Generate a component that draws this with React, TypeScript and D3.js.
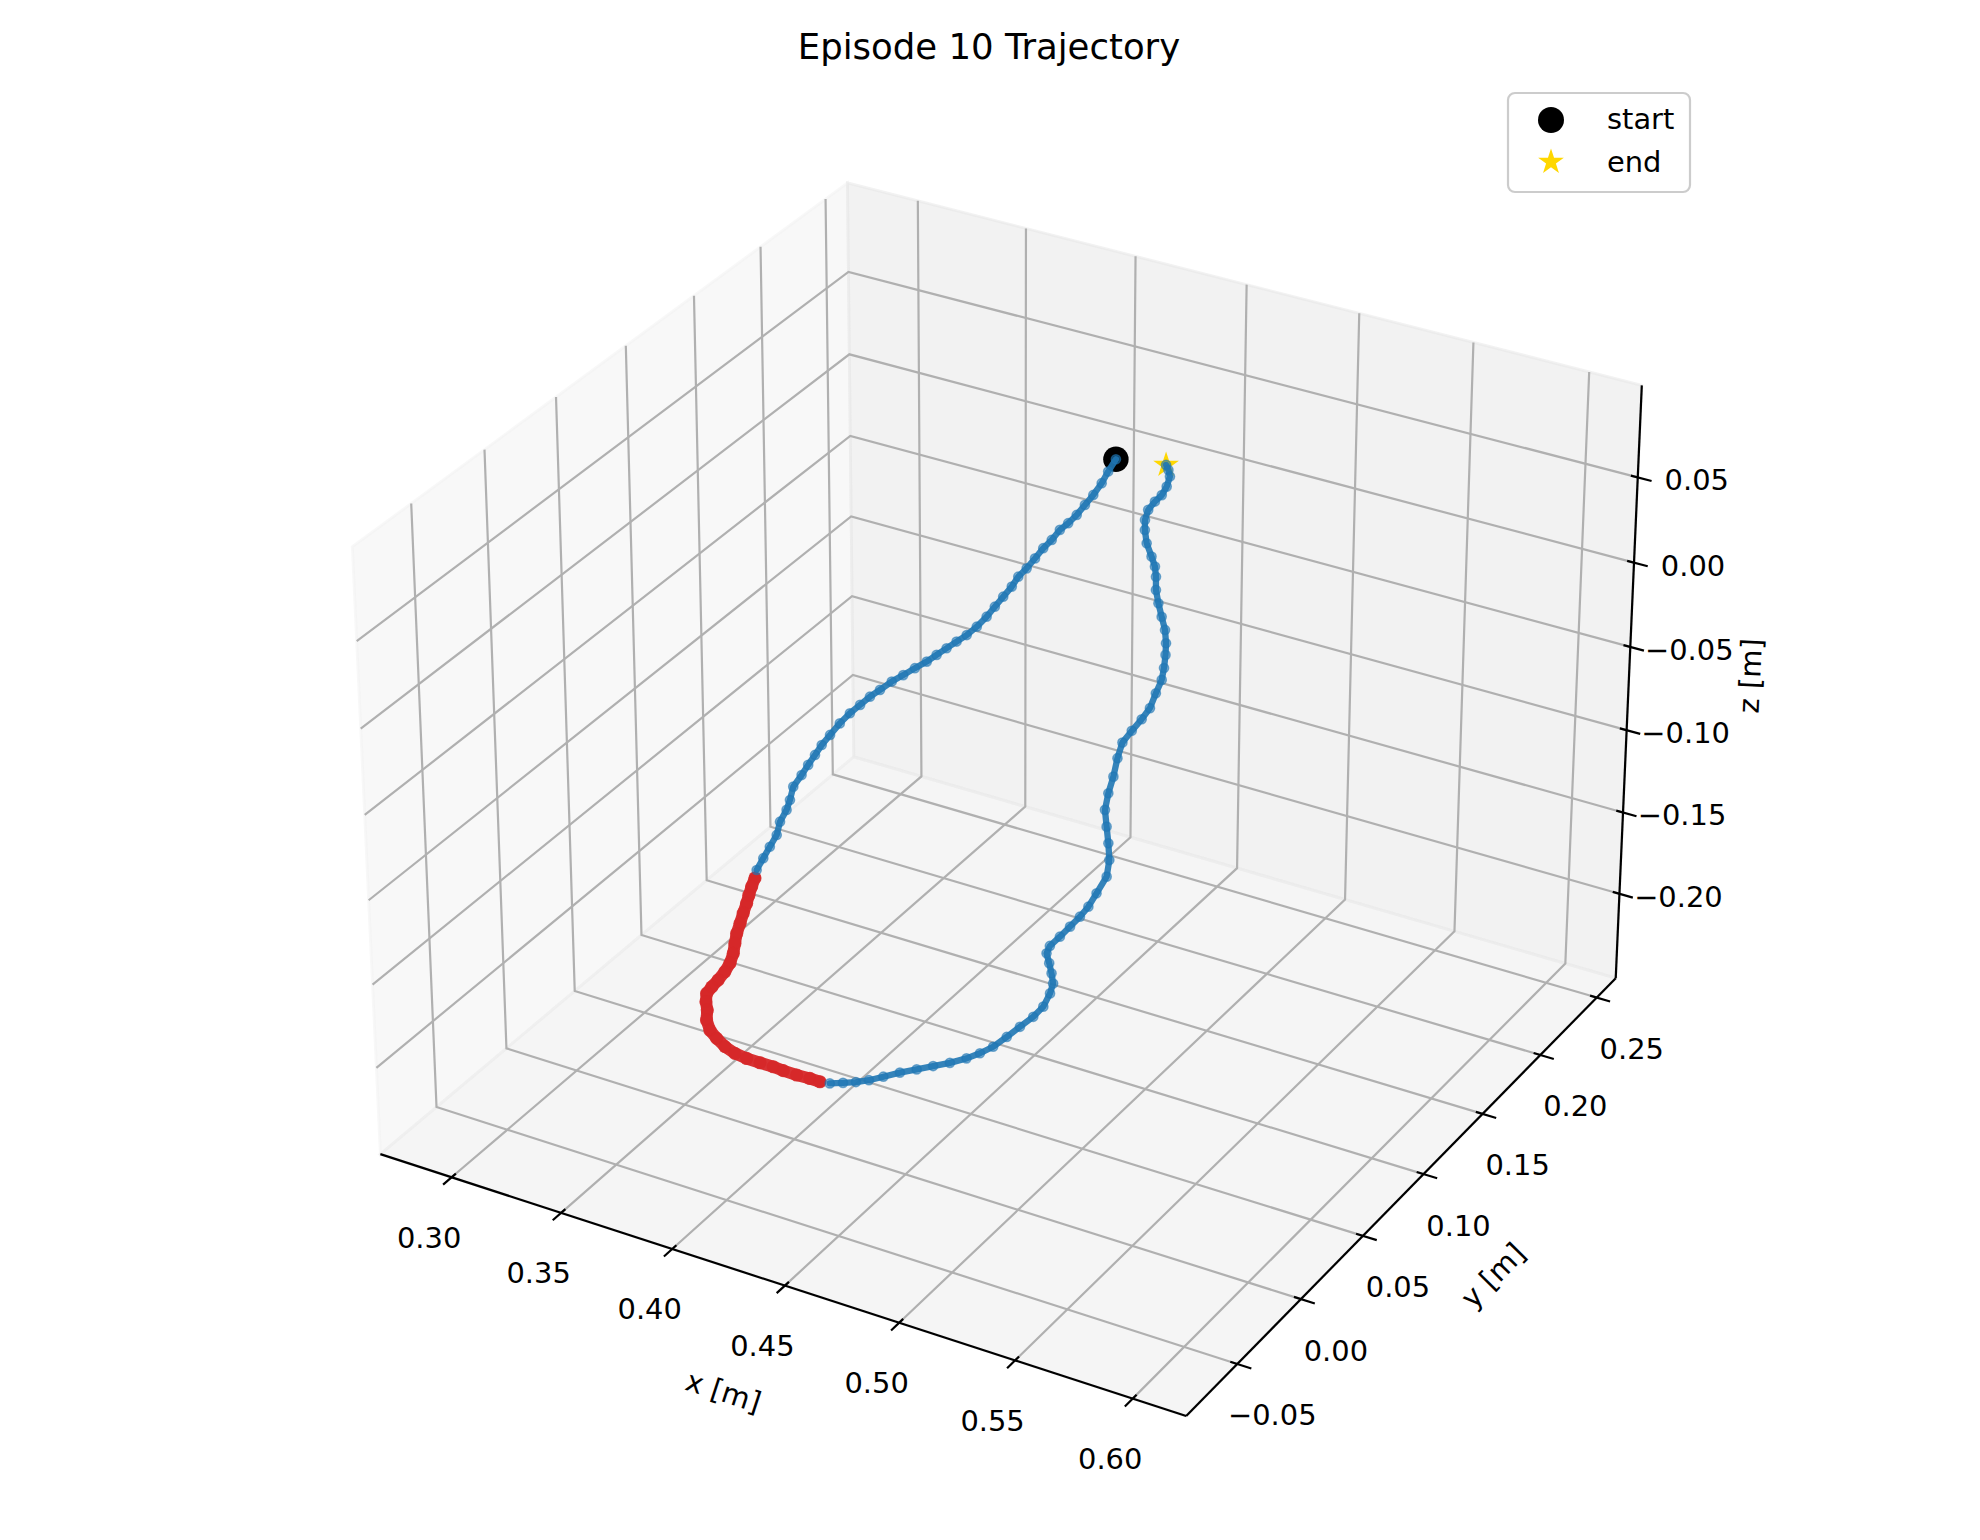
import React from "react";
import * as d3 from "d3";

// ---- data (metres) ----
const approachX = [0.4618, 0.4585, 0.4557, 0.4521, 0.4485, 0.4449, 0.4412, 0.4376, 0.434, 0.4303, 0.4267, 0.423, 0.4193, 0.4164, 0.4126, 0.4089, 0.4052, 0.4008, 0.3963, 0.3917, 0.3872, 0.3827, 0.3782, 0.3728, 0.3675, 0.3622, 0.3568, 0.3522, 0.3476, 0.3429, 0.3382, 0.3336, 0.3297, 0.3265, 0.3233, 0.3202, 0.3162, 0.3146, 0.313, 0.3098, 0.3082, 0.3049, 0.3017, 0.2985];
const approachY = [0.1412, 0.1411, 0.1411, 0.141, 0.1409, 0.1409, 0.1408, 0.1407, 0.1407, 0.1406, 0.1405, 0.1405, 0.1404, 0.1404, 0.1403, 0.1402, 0.1402, 0.1401, 0.14, 0.14, 0.1399, 0.1398, 0.1398, 0.1397, 0.1396, 0.1396, 0.1395, 0.1394, 0.1394, 0.1393, 0.1392, 0.1392, 0.1391, 0.1391, 0.139, 0.1389, 0.1389, 0.1388, 0.1387, 0.1387, 0.1386, 0.1385, 0.1385, 0.1384];
const approachZ = [0.0805, 0.0723, 0.0646, 0.0566, 0.0496, 0.0425, 0.0364, 0.0313, 0.0241, 0.018, 0.0108, 0.0036, -0.0026, -0.0095, -0.0168, -0.024, -0.0313, -0.0388, -0.0454, -0.051, -0.0566, -0.0622, -0.0679, -0.0738, -0.0799, -0.0858, -0.0928, -0.0986, -0.1053, -0.1121, -0.12, -0.1288, -0.1364, -0.1437, -0.151, -0.1584, -0.1671, -0.1759, -0.1826, -0.1912, -0.2, -0.2086, -0.217, -0.2256];

const contactX = [0.2985, 0.3009, 0.3034, 0.306, 0.3089, 0.3119, 0.3148, 0.3182, 0.3217, 0.3246, 0.3262, 0.3272, 0.3277, 0.3286, 0.3317, 0.3354, 0.3391, 0.3442, 0.3497, 0.3558, 0.3617, 0.3676, 0.3738, 0.3798, 0.3847, 0.3908, 0.3965, 0.4012];
const contactY = [0.137, 0.1305, 0.1243, 0.1183, 0.111, 0.1037, 0.0964, 0.0895, 0.0826, 0.0754, 0.0689, 0.0622, 0.0566, 0.0513, 0.0458, 0.0408, 0.0343, 0.0286, 0.0247, 0.021, 0.0188, 0.018, 0.0178, 0.0179, 0.0173, 0.0173, 0.0178, 0.0176];
const contactZ = [-0.2296, -0.2297, -0.2298, -0.2297, -0.2296, -0.2297, -0.2298, -0.2298, -0.2297, -0.2296, -0.2297, -0.2297, -0.2298, -0.2297, -0.2296, -0.2297, -0.2297, -0.2298, -0.2297, -0.2296, -0.2297, -0.2298, -0.2297, -0.2297, -0.2296, -0.2297, -0.2298, -0.2297];

const retreatX = [0.4051, 0.4094, 0.4134, 0.417, 0.4206, 0.4247, 0.4291, 0.4334, 0.4378, 0.4418, 0.4445, 0.4465, 0.4474, 0.4482, 0.449, 0.4487, 0.446, 0.4433, 0.439, 0.4344, 0.4297, 0.4336, 0.4381, 0.4426, 0.447, 0.4507, 0.4543, 0.4587, 0.4598, 0.4592, 0.4583, 0.4574, 0.4588, 0.4609, 0.4626, 0.4647, 0.4687, 0.473, 0.4765, 0.479, 0.4814, 0.4823, 0.4828, 0.4829, 0.4823, 0.4807, 0.4791, 0.4779, 0.4778, 0.4772, 0.4756, 0.4733, 0.4724, 0.4723, 0.4736, 0.4764, 0.4793, 0.4813, 0.4826, 0.4818, 0.4807];
const retreatY = [0.0185, 0.0213, 0.0244, 0.0282, 0.0331, 0.0388, 0.0442, 0.0495, 0.0549, 0.0609, 0.0667, 0.0735, 0.0826, 0.0916, 0.1007, 0.1092, 0.1193, 0.1265, 0.1328, 0.139, 0.1451, 0.1409, 0.141, 0.1412, 0.1413, 0.1415, 0.1416, 0.1418, 0.1419, 0.1421, 0.1422, 0.1424, 0.1425, 0.1427, 0.1428, 0.1429, 0.1431, 0.1432, 0.1434, 0.1435, 0.1437, 0.1438, 0.144, 0.1441, 0.1443, 0.1444, 0.1446, 0.1447, 0.1448, 0.145, 0.1451, 0.1453, 0.1454, 0.1456, 0.1457, 0.1459, 0.146, 0.1462, 0.1463, 0.1465, 0.1466];
const retreatZ = [-0.2297, -0.2296, -0.2297, -0.2298, -0.2297, -0.2296, -0.2297, -0.2297, -0.2298, -0.2297, -0.2296, -0.2297, -0.2298, -0.2297, -0.2297, -0.2296, -0.2297, -0.2298, -0.2297, -0.2296, -0.2297, -0.2206, -0.2131, -0.2052, -0.1974, -0.1899, -0.1803, -0.1685, -0.158, -0.1482, -0.1385, -0.1288, -0.1183, -0.1076, -0.0959, -0.0858, -0.0774, -0.0689, -0.0611, -0.0514, -0.0427, -0.0354, -0.0276, -0.0208, -0.0133, -0.0062, 0.001, 0.0083, 0.0159, 0.0215, 0.0267, 0.0335, 0.0408, 0.0465, 0.0527, 0.0584, 0.0631, 0.0686, 0.0748, 0.0782, 0.0806];

const xLim = [0.2671, 0.6225];
const yLim = [-0.0893, 0.2671];
const zLim = [-0.2525, 0.1033];
const xTicks = [0.3, 0.35, 0.4, 0.45, 0.5, 0.55, 0.6];
const yTicks = [-0.05, 0.0, 0.05, 0.1, 0.15, 0.2, 0.25];
const zTicks = [-0.2, -0.15, -0.1, -0.05, 0.0, 0.05];

const title = "Episode 10 Trajectory";
const legendLabels = ["start", "end"];

// ---- view (matplotlib-like: elev 30, azim -60, box 4:4:3, dist 10) ----
const W = 1980, H = 1540;
const ELEV = 30, AZIM = -60, DIST = 10;
const K = 8080, CX = 1009, CY = 771;
const FONT = "DejaVu Sans";
const FS = 28.9;
const BLUE = "#1f77b4", RED = "#d62728";

const boxNorm = 1.8294640721620434 / Math.hypot(4, 4, 3);
const box = [4 * boxNorm, 4 * boxNorm, 3 * boxNorm];
const xq = d3.scaleLinear().domain(xLim).range([-box[0] / 2, box[0] / 2]);
const yq = d3.scaleLinear().domain(yLim).range([-box[1] / 2, box[1] / 2]);
const zq = d3.scaleLinear().domain(zLim).range([-box[2] / 2, box[2] / 2]);

const el = (ELEV * Math.PI) / 180, az = (AZIM * Math.PI) / 180;
const wv = [Math.cos(el) * Math.cos(az), Math.cos(el) * Math.sin(az), Math.sin(el)];
const un = Math.hypot(wv[0], wv[1]);
const uv = [-wv[1] / un, wv[0] / un, 0];
const vv = [wv[1] * uv[2] - wv[2] * uv[1], wv[2] * uv[0] - wv[0] * uv[2], wv[0] * uv[1] - wv[1] * uv[0]];
const dot = (a: number[], b: number[]) => a[0] * b[0] + a[1] * b[1] + a[2] * b[2];

const screenX = d3.scaleLinear().domain([0, 1]).range([CX, CX + K]);
const screenY = d3.scaleLinear().domain([0, 1]).range([CY, CY - K]);

function proj(x: number, y: number, z: number): [number, number] {
  const q = [xq(x), yq(y), zq(z)];
  const d = DIST - dot(wv, q);
  return [screenX(dot(uv, q) / d), screenY(dot(vv, q) / d)];
}

const [x0, x1] = xLim, [y0, y1] = yLim, [z0, z1] = zLim;
const line = d3.line();
const poly = (pts: number[][]) => line(pts.map((p) => proj(p[0], p[1], p[2])))!;

const fmt = d3.format(".2f");
const xr = x1 - x0, yr = y1 - y0;

// back panes: x = xmin, y = ymax, z = zmin
const panes = [
  { pts: [[x0, y0, z0], [x0, y1, z0], [x0, y1, z1], [x0, y0, z1]], c: "rgb(242,242,242)" },
  { pts: [[x0, y1, z0], [x1, y1, z0], [x1, y1, z1], [x0, y1, z1]], c: "rgb(230,230,230)" },
  { pts: [[x0, y0, z0], [x1, y0, z0], [x1, y1, z0], [x0, y1, z0]], c: "rgb(236,236,236)" },
];

const grid = [
  ...xTicks.map((t) => [[t, y0, z0], [t, y1, z0], [t, y1, z1]]),
  ...yTicks.map((t) => [[x1, t, z0], [x0, t, z0], [x0, t, z1]]),
  ...zTicks.map((t) => [[x1, y1, t], [x0, y1, t], [x0, y0, t]]),
];

const axisLines = [
  [[x0, y0, z0], [x1, y0, z0]],
  [[x1, y0, z0], [x1, y1, z0]],
  [[x1, y1, z0], [x1, y1, z1]],
];

type Tick = { seg: number[][]; at: number[]; label: string; dx: number; dy: number };
const ticks: Tick[] = [
  ...xTicks.map((t) => ({ seg: [[t, y0 + yr / 120, z0], [t, y0 - yr / 60, z0]], at: [t, y0, z0], label: fmt(t), dx: -22.5, dy: 60 })),
  ...yTicks.map((t) => ({ seg: [[x1 - xr / 120, t, z0], [x1 + xr / 60, t, z0]], at: [x1, t, z0], label: fmt(t), dx: 35, dy: 51 })),
  ...zTicks.map((t) => ({ seg: [[x1 - xr / 120, y1, t], [x1 + xr / 60, y1, t]], at: [x1, y1, t], label: fmt(t), dx: 59, dy: 2.5 })),
];

function axisLabel(a: number[][], off: [number, number], text: string) {
  const p = proj(a[0][0], a[0][1], a[0][2]);
  const q = proj(a[1][0], a[1][1], a[1][2]);
  let ang = (Math.atan2(q[1] - p[1], q[0] - p[0]) * 180) / Math.PI;
  if (ang > 90) ang -= 180;
  if (ang <= -90) ang += 180;
  const cx = (p[0] + q[0]) / 2 + off[0], cy = (p[1] + q[1]) / 2 + off[1];
  return { cx, cy, ang, text };
}
const axisLabels = [
  axisLabel(axisLines[0], [-60, 107], "x [m]"),
  axisLabel(axisLines[1], [92.5, 78.7], "y [m]"),
  axisLabel(axisLines[2], [122, -6], "z [m]"),
];

const toPts = (xs: number[], ys: number[], zs: number[]) => xs.map((x, i) => proj(x, ys[i], zs[i]));
const approachPts = toPts(approachX, approachY, approachZ);
const contactPts = toPts(contactX, contactY, contactZ);
const retreatPts = toPts(retreatX, retreatY, retreatZ);
const startPt = approachPts[0];
const endPt = retreatPts[retreatPts.length - 1];

const star = d3.symbol(d3.symbolStar, 205)()!;

export default function App() {
  return (
    <svg width={W} height={H} style={{ position: "absolute", left: 0, top: 0, background: "#fff" }} fontFamily={FONT}>
      <rect width={W} height={H} fill="#fff" />
      <text x={989} y={59} fontSize={35.5} textAnchor="middle">{title}</text>

      {panes.map((p, i) => (
        <path key={i} d={poly(p.pts) + "Z"} fill={p.c} fillOpacity={0.5} stroke={p.c} strokeOpacity={0.5} strokeWidth={2.8} />
      ))}
      {grid.map((g, i) => (
        <path key={i} d={poly(g)} fill="none" stroke="#b0b0b0" strokeWidth={2.2} />
      ))}
      {axisLines.map((a, i) => (
        <path key={i} d={poly(a)} stroke="#000" strokeWidth={2.2} />
      ))}
      {ticks.map((t, i) => {
        const c = proj(t.at[0], t.at[1], t.at[2]);
        return (
          <g key={i}>
            <path d={poly(t.seg)} stroke="#000" strokeWidth={2.2} />
            <text x={c[0] + t.dx} y={c[1] + t.dy + 10.4} fontSize={FS} textAnchor="middle">{t.label}</text>
          </g>
        );
      })}
      {axisLabels.map((l, i) => (
        <text key={i} transform={`translate(${l.cx},${l.cy}) rotate(${l.ang})`} y={9.5} fontSize={FS} textAnchor="middle">{l.text}</text>
      ))}

      {/* start / end markers sit under the path */}
      <circle cx={startPt[0]} cy={startPt[1]} r={12.7} fill="#000" />
      <path d={star} transform={`translate(${endPt[0]},${endPt[1]})`} fill="#ffd700" />

      <path d={line(contactPts)!} fill="none" stroke={RED} strokeWidth={12} strokeOpacity={0.95} strokeLinejoin="round" strokeLinecap="round" />
      {contactPts.map((p, i) => (
        <circle key={i} cx={p[0]} cy={p[1]} r={6.6} fill={RED} fillOpacity={0.85} />
      ))}
      {[approachPts, retreatPts].map((pts, j) => (
        <g key={j}>
          <path d={line(pts)!} fill="none" stroke={BLUE} strokeWidth={6.3} strokeOpacity={0.9} strokeLinejoin="round" strokeLinecap="round" />
          {pts.map((p, i) => (
            <circle key={i} cx={p[0]} cy={p[1]} r={4.6} fill={BLUE} fillOpacity={0.55} stroke={BLUE} strokeOpacity={0.6} strokeWidth={1.5} />
          ))}
        </g>
      ))}

      <g>
        <rect x={1508} y={93} width={182} height={99} rx={7} fill="#fff" fillOpacity={0.8} stroke="#cccccc" strokeWidth={2.2} />
        <circle cx={1551} cy={120} r={13} fill="#000" />
        <path d={star} transform="translate(1551,162)" fill="#ffd700" />
        <text x={1607} y={129} fontSize={FS}>{legendLabels[0]}</text>
        <text x={1607} y={172} fontSize={FS}>{legendLabels[1]}</text>
      </g>
    </svg>
  );
}
